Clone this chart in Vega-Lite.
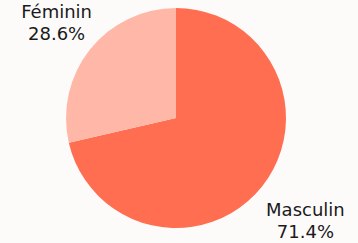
{
  "$schema": "https://vega.github.io/schema/vega-lite/v6.json",
  "width": 358,
  "height": 243,
  "autosize": {"type": "fit", "contains": "padding"},
  "padding": {"left": 0, "right": 6, "top": 0, "bottom": 4},
  "background": "#fdfbfa",
  "config": {"view": {"stroke": null}, "font": "DejaVu Sans"},
  "data": {
    "values": [
      {"sexe": "Masculin", "part": 0.714, "ordre": 1},
      {"sexe": "Féminin", "part": 0.286, "ordre": 2}
    ]
  },
  "encoding": {
    "theta": {"field": "part", "type": "quantitative", "stack": true},
    "order": {"field": "ordre", "type": "quantitative"}
  },
  "layer": [
    {
      "mark": {"type": "arc", "radius": 110},
      "encoding": {
        "color": {
          "field": "sexe",
          "type": "nominal",
          "scale": {"domain": ["Masculin", "Féminin"], "range": ["#ff6e50", "#ffb8a8"]},
          "legend": null
        }
      }
    },
    {
      "mark": {"type": "text", "radius": 159, "fontSize": 18, "dx": 5, "dy": -6, "color": "#1a1a1a"},
      "encoding": {"text": {"field": "sexe", "type": "nominal"}}
    },
    {
      "mark": {"type": "text", "radius": 159, "fontSize": 18, "dx": 5, "dy": 16, "color": "#1a1a1a"},
      "encoding": {"text": {"field": "part", "type": "quantitative", "format": ".1%"}}
    }
  ]
}
